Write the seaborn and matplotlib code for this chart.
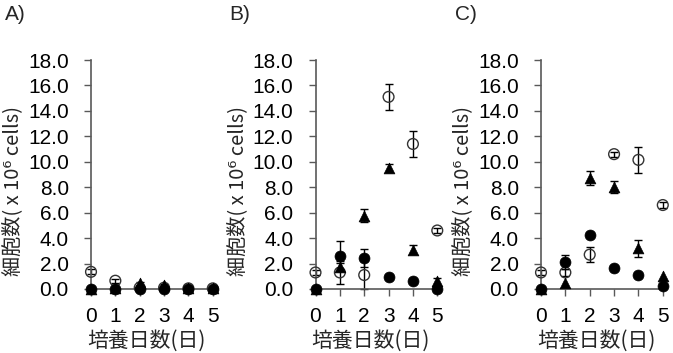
import numpy as np
import pandas as pd
import matplotlib
matplotlib.use("Agg")
import matplotlib.pyplot as plt
import seaborn as sns

# ---- data (x 10^6 cells) ----
days = [0, 1, 2, 3, 4, 5]
panel_labels = ["A)", "B)", "C)"]

a_open = [1.35, 0.65, 0.1, 0.1, 0.05, 0.05]
a_open_err = [0.2, 0.15, 0.0, 0.0, 0.0, 0.0]
a_tri = [0.0, 0.1, 0.45, 0.3, 0.05, 0.05]
a_tri_err = [0.0, 0.0, 0.1, 0.1, 0.0, 0.0]
a_fill = [0.0, 0.0, 0.0, 0.0, 0.0, 0.0]
a_fill_err = [0.0, 0.0, 0.0, 0.0, 0.0, 0.0]

b_open = [1.3, 1.3, 1.1, 15.1, 11.4, 4.6]
b_open_err = [0.2, 0.9, 1.1, 1.0, 1.05, 0.2]
b_tri = [0.0, 1.75, 5.75, 9.5, 3.1, 0.6]
b_tri_err = [0.0, 0.3, 0.5, 0.3, 0.35, 0.3]
b_fill = [0.0, 2.6, 2.45, 0.92, 0.65, 0.0]
b_fill_err = [0.0, 1.15, 0.7, 0.0, 0.0, 0.0]

c_open = [1.3, 1.3, 2.7, 10.6, 10.15, 6.6]
c_open_err = [0.2, 0.3, 0.6, 0.2, 1.05, 0.2]
c_tri = [0.0, 0.45, 8.7, 8.0, 3.2, 1.0]
c_tri_err = [0.0, 0.0, 0.55, 0.45, 0.65, 0.0]
c_fill = [0.0, 2.15, 4.27, 1.62, 1.07, 0.2]
c_fill_err = [0.0, 0.55, 0.0, 0.0, 0.0, 0.0]

y_ticks = [0, 2, 4, 6, 8, 10, 12, 14, 16, 18]
x_label = "培養日数(日)"
y_label = "細胞数( x 10\u2076 cells)"

# ---- long table ----
rows = []
series_data = {
    "A)": {"open": (a_open, a_open_err), "tri": (a_tri, a_tri_err), "fill": (a_fill, a_fill_err)},
    "B)": {"open": (b_open, b_open_err), "tri": (b_tri, b_tri_err), "fill": (b_fill, b_fill_err)},
    "C)": {"open": (c_open, c_open_err), "tri": (c_tri, c_tri_err), "fill": (c_fill, c_fill_err)},
}
for p, d in series_data.items():
    for s, (vals, errs) in d.items():
        for day, v, e in zip(days, vals, errs):
            rows.append({"panel": p, "series": s, "day": day, "value": v, "err": e})
df = pd.DataFrame(rows)

sns.set_style("ticks")
plt.rcParams["font.family"] = ["Liberation Sans", "Noto Sans CJK JP", "DejaVu Sans"]
axis_color = "#595959"

fig = plt.figure(figsize=(6.73, 3.53), dpi=100)
W, H = 673, 353
lefts = [91, 315.5, 541]
ax_w = 123
ax_bottom, ax_top = 289, 60

for i, p in enumerate(panel_labels):
    ax = fig.add_axes([lefts[i] / W, (H - ax_bottom) / H, ax_w / W, (ax_bottom - ax_top) / H])
    sub = df[df["panel"] == p]

    # error bars first
    for s in ["open", "tri", "fill"]:
        ss = sub[(sub["series"] == s) & (sub["err"] > 0)]
        if len(ss):
            ax.errorbar(ss["day"], ss["value"], yerr=ss["err"], fmt="none",
                        ecolor="black", elinewidth=1, capsize=3, capthick=1,
                        clip_on=False, zorder=2)

    so = sub[sub["series"] == "open"]
    sns.scatterplot(data=so, x="day", y="value", ax=ax, marker="o", s=60,
                    facecolor="none", edgecolor="#333333", linewidth=1,
                    clip_on=False, zorder=3)
    st = sub[sub["series"] == "tri"]
    sns.scatterplot(data=st, x="day", y="value", ax=ax, marker="^", s=60,
                    color="black", edgecolor="black", linewidth=0.5,
                    clip_on=False, zorder=4)
    sf = sub[sub["series"] == "fill"]
    sns.scatterplot(data=sf, x="day", y="value", ax=ax, marker="o", s=62,
                    color="black", edgecolor="black", linewidth=0.5,
                    clip_on=False, zorder=5)

    ax.set_xlim(0, 5.05)
    ax.set_ylim(0, 18)
    ax.set_xticks(days)
    ax.set_xticklabels([str(d) for d in days])
    ax.set_yticks(y_ticks)
    ax.set_yticklabels([f"{v:.1f}" for v in y_ticks])
    sns.despine(ax=ax)
    for sp in ["left", "bottom"]:
        ax.spines[sp].set_color(axis_color)
        ax.spines[sp].set_linewidth(1.2)
    ax.tick_params(axis="y", direction="out", length=5, width=1, color=axis_color,
                   pad=11, labelsize=15, labelcolor="black")
    ax.tick_params(axis="x", direction="out", length=5, width=1, color=axis_color,
                   pad=8, labelsize=15, labelcolor="black")

    ax.set_xlabel(x_label, fontsize=15, family=["Noto Sans CJK JP", "DejaVu Sans"])
    ax.xaxis.set_label_coords(0.45, -0.18)
    ax.set_ylabel(y_label, fontsize=14.5, family=["Noto Sans CJK JP", "DejaVu Sans"])
    ax.yaxis.set_label_coords(-0.55, 0.43)

    fig.text((lefts[i] - 86) / W, 1 - 15 / H, p, fontsize=15, ha="left", va="center")

fig.savefig("out.png", dpi=100)
